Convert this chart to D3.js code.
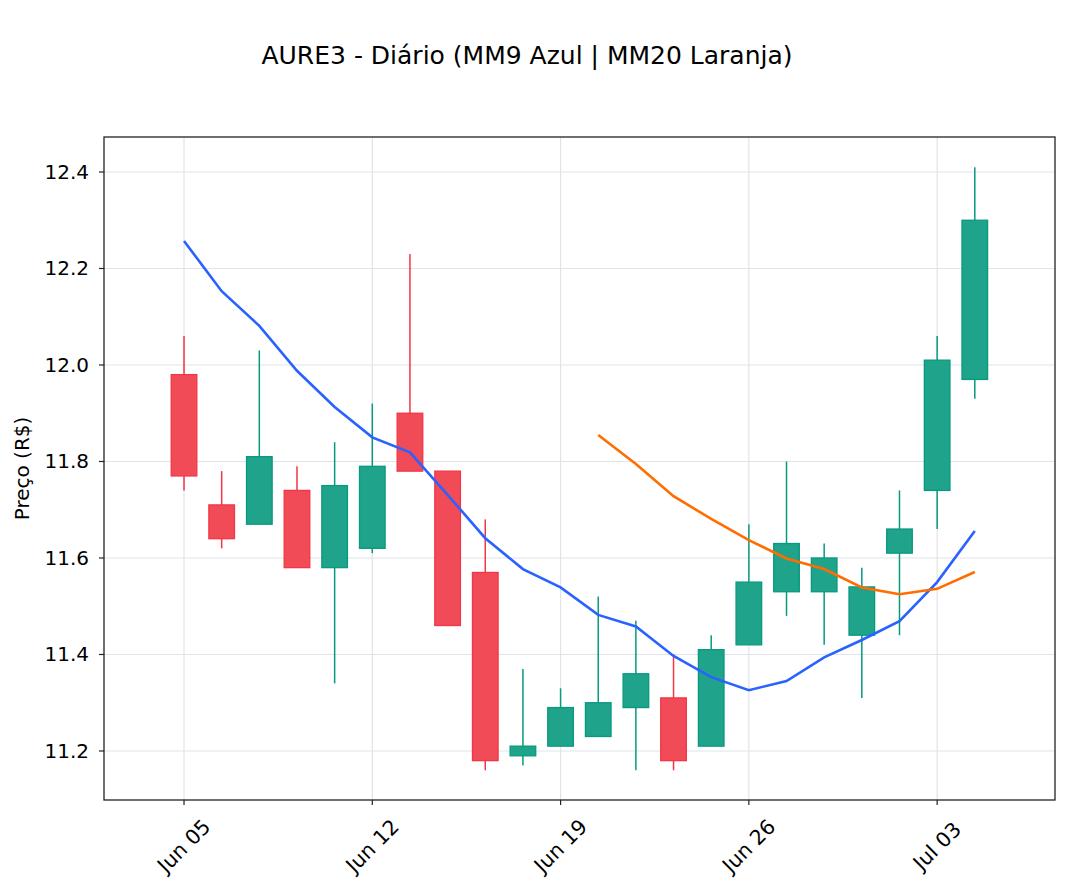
<!DOCTYPE html>
<html>
<head>
<meta charset="utf-8">
<script src="https://cdn.jsdelivr.net/npm/d3@7"></script>
<style>
  html, body { margin: 0; padding: 0; background: #fff; }
  svg text { font-family: "DejaVu Sans", sans-serif; fill: #000; }
</style>
</head>
<body>
<div id="chart"></div>
<script>
// Daily candles (trading days only, x is the index)
const dates = ["2023-06-05", "2023-06-06", "2023-06-07", "2023-06-08", "2023-06-09",
  "2023-06-12", "2023-06-13", "2023-06-14", "2023-06-15", "2023-06-16",
  "2023-06-19", "2023-06-20", "2023-06-21", "2023-06-22", "2023-06-23",
  "2023-06-26", "2023-06-27", "2023-06-28", "2023-06-29", "2023-06-30",
  "2023-07-03", "2023-07-04"];
const opens  = [11.98, 11.71, 11.67, 11.74, 11.58, 11.62, 11.90, 11.78, 11.57, 11.19, 11.21,
  11.23, 11.29, 11.31, 11.21, 11.42, 11.53, 11.53, 11.44, 11.61, 11.74, 11.97];
const highs  = [12.06, 11.78, 12.03, 11.79, 11.84, 11.92, 12.23, 11.78, 11.68, 11.37, 11.33,
  11.52, 11.47, 11.40, 11.44, 11.67, 11.80, 11.63, 11.58, 11.74, 12.06, 12.41];
const lows   = [11.74, 11.62, 11.67, 11.58, 11.34, 11.61, 11.78, 11.46, 11.16, 11.17, 11.21,
  11.23, 11.16, 11.16, 11.21, 11.42, 11.48, 11.42, 11.31, 11.44, 11.66, 11.93];
const closes = [11.77, 11.64, 11.81, 11.58, 11.75, 11.79, 11.78, 11.46, 11.18, 11.21, 11.29,
  11.30, 11.36, 11.18, 11.41, 11.55, 11.63, 11.60, 11.54, 11.66, 12.01, 12.30];
// moving averages
const mm9  = [12.257, 12.153, 12.081, 11.988, 11.913, 11.850, 11.819, 11.731, 11.641, 11.577,
  11.539, 11.482, 11.458, 11.397, 11.353, 11.326, 11.345, 11.394, 11.430, 11.469, 11.550, 11.656];
const mm20 = [null, null, null, null, null, null, null, null, null, null, null,
  11.855, 11.795, 11.728, 11.681, 11.637, 11.599, 11.577, 11.539, 11.525, 11.536, 11.571];
const yTicks = [11.2, 11.4, 11.6, 11.8, 12.0, 12.2, 12.4];

const W = 1069, H = 891;
const margin = { top: 137, right: 14, bottom: 91, left: 104 };

const parse = d3.timeParse("%Y-%m-%d");
const fmt = d3.timeFormat("%b %d");
const candles = dates.map((d, i) => ({
  i: i, date: parse(d), o: opens[i], h: highs[i], l: lows[i], c: closes[i]
}));

const svg = d3.select("#chart").append("svg")
  .attr("width", W).attr("height", H);

const x = d3.scaleLinear().domain([-2.125, 23.13])
  .range([margin.left, W - margin.right]);
const y = d3.scaleLinear().domain([11.0984, 12.4725])
  .range([H - margin.bottom, margin.top]);

// x ticks on Mondays
const xTicks = candles.filter(d => d.date.getDay() === 1).map(d => d.i);

// grid
const grid = svg.append("g").attr("stroke", "#e1e3ea").attr("stroke-width", 1.2);
grid.selectAll(".gy").data(yTicks).enter().append("line")
  .attr("x1", margin.left).attr("x2", W - margin.right)
  .attr("y1", d => y(d)).attr("y2", d => y(d));
grid.selectAll(".gx").data(xTicks).enter().append("line")
  .attr("y1", margin.top).attr("y2", H - margin.bottom)
  .attr("x1", d => x(d)).attr("x2", d => x(d));

// candles
const upEdge = "#089981", upFill = "#1fa38a";
const dnEdge = "#f23645", dnFill = "#f24b58";
const half = 0.34;
const cg = svg.append("g");
cg.selectAll(".wick").data(candles).enter().append("line")
  .attr("x1", d => x(d.i)).attr("x2", d => x(d.i))
  .attr("y1", d => y(d.h)).attr("y2", d => y(d.l))
  .attr("stroke", d => d.c >= d.o ? upEdge : dnEdge)
  .attr("stroke-width", 1.5);
cg.selectAll(".body").data(candles).enter().append("rect")
  .attr("x", d => x(d.i - half))
  .attr("width", d => x(d.i + half) - x(d.i - half))
  .attr("y", d => y(Math.max(d.o, d.c)))
  .attr("height", d => Math.max(1, Math.abs(y(d.o) - y(d.c))))
  .attr("fill", d => d.c >= d.o ? upFill : dnFill)
  .attr("stroke", d => d.c >= d.o ? upEdge : dnEdge)
  .attr("stroke-width", 1.3);

// moving average lines
const line = d3.line()
  .defined(d => d != null)
  .x((d, i) => x(i))
  .y(d => y(d));
svg.append("path").datum(mm9)
  .attr("d", line).attr("fill", "none")
  .attr("stroke", "#2962ff").attr("stroke-width", 2.6);
svg.append("path").datum(mm20)
  .attr("d", line).attr("fill", "none")
  .attr("stroke", "#ff6d00").attr("stroke-width", 2.6);

// axes frame
svg.append("rect")
  .attr("x", margin.left).attr("y", margin.top)
  .attr("width", W - margin.right - margin.left)
  .attr("height", H - margin.bottom - margin.top)
  .attr("fill", "none").attr("stroke", "#222").attr("stroke-width", 1.3);

// y axis
const yAxis = svg.append("g");
yAxis.selectAll(".tk").data(yTicks).enter().append("line")
  .attr("x1", margin.left - 5).attr("x2", margin.left)
  .attr("y1", d => y(d)).attr("y2", d => y(d))
  .attr("stroke", "#222").attr("stroke-width", 1.2);
yAxis.selectAll(".lb").data(yTicks).enter().append("text")
  .attr("x", margin.left - 15).attr("y", d => y(d))
  .attr("text-anchor", "end").attr("dominant-baseline", "central")
  .style("font-size", "20px")
  .text(d => d.toFixed(1));

// x axis
const xAxis = svg.append("g");
xAxis.selectAll(".tk").data(xTicks).enter().append("line")
  .attr("x1", d => x(d)).attr("x2", d => x(d))
  .attr("y1", H - margin.bottom).attr("y2", H - margin.bottom + 5)
  .attr("stroke", "#222").attr("stroke-width", 1.2);
xAxis.selectAll(".lb").data(xTicks).enter().append("text")
  .attr("transform", d => `translate(${x(d)},${H - margin.bottom + 46}) rotate(-45)`)
  .attr("text-anchor", "middle").attr("dominant-baseline", "central")
  .style("font-size", "20.5px")
  .text(d => fmt(candles[d].date));

// y label
svg.append("text")
  .attr("transform", `translate(22,${(margin.top + H - margin.bottom) / 2}) rotate(-90)`)
  .attr("text-anchor", "middle").attr("dominant-baseline", "central")
  .style("font-size", "20px")
  .text("Preço (R$)");

// title
svg.append("text")
  .attr("x", 527).attr("y", 64)
  .attr("text-anchor", "middle")
  .style("font-size", "25px")
  .text("AURE3 - Diário (MM9 Azul | MM20 Laranja)");
</script>
</body>
</html>
